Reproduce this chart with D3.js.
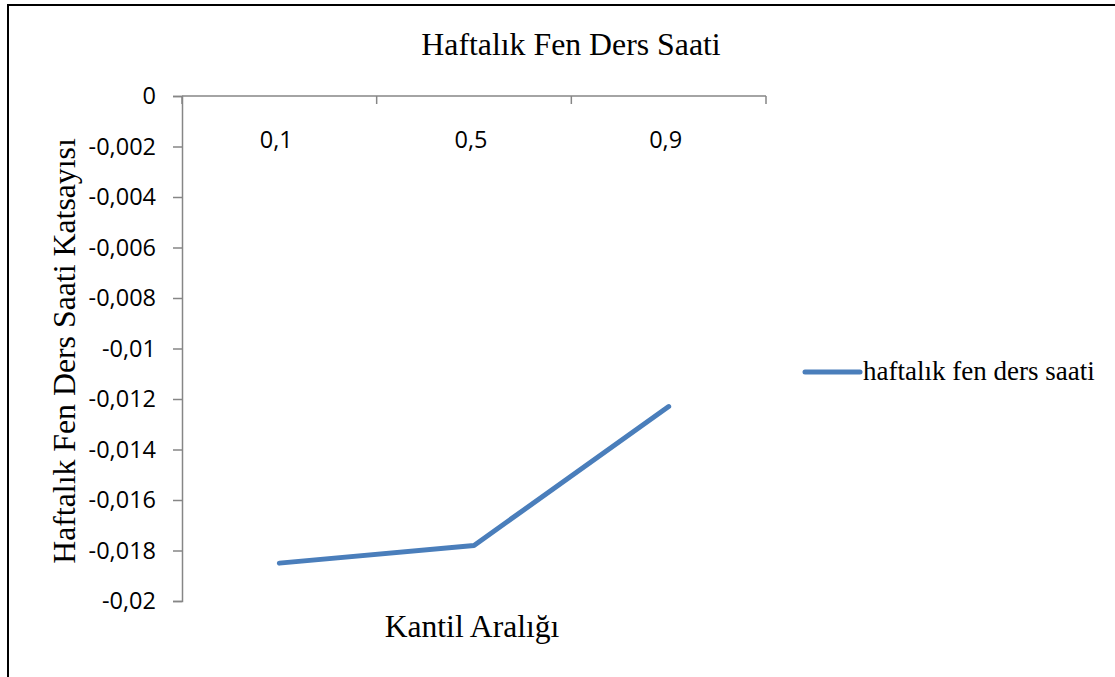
<!DOCTYPE html>
<html>
<head>
<meta charset="utf-8">
<script src="https://cdn.jsdelivr.net/npm/d3@7"></script>
<style>
  body { margin: 0; background: #fff; }
  svg { display: block; }
</style>
</head>
<body>
<svg id="chart" width="1115" height="677"></svg>
<script>
const quantiles = ['0,1', '0,5', '0,9'];
const coefficients = [-0.0185, -0.0178, -0.0123];
const yTicks = [0, -0.002, -0.004, -0.006, -0.008, -0.01, -0.012, -0.014, -0.016, -0.018, -0.02];
const seriesName = 'haftalık fen ders saati';

const svg = d3.select('#chart');
const plotLeft = 182, plotRight = 766, plotTop = 96, plotBottom = 601;
const axisColor = '#868686';
const lineColor = '#4a7ebb';

// outer frame of the chart area (runs off the right and bottom edge)
svg.append('rect')
  .attr('x', 8).attr('y', 5)
  .attr('width', 1120).attr('height', 690)
  .attr('fill', 'none')
  .attr('stroke', '#000')
  .attr('stroke-width', 2);

const x = d3.scaleBand().domain(quantiles).range([plotLeft, plotRight]);
const y = d3.scaleLinear().domain([0, -0.02]).range([plotTop, plotBottom]);

// y axis with comma decimals
const fmt = d => d === 0 ? '0' : String(d).replace('.', ',');
const yAxis = svg.append('g')
  .attr('transform', `translate(${plotLeft},0)`)
  .call(d3.axisLeft(y).tickValues(yTicks).tickFormat(fmt).tickSize(9).tickPadding(17));
yAxis.select('.domain').attr('stroke', axisColor).attr('stroke-width', 1.5);
yAxis.selectAll('.tick line').attr('stroke', axisColor).attr('stroke-width', 1.5);
yAxis.selectAll('.tick text')
  .attr('fill', '#000')
  .style('font-family', '"Open Sans", sans-serif')
  .style('font-size', '23.5px');

// category axis sits at zero (the top), ticks at category boundaries
const xAxis = svg.append('g')
  .attr('transform', `translate(0,${plotTop})`);
xAxis.append('line')
  .attr('x1', plotLeft).attr('x2', plotRight)
  .attr('stroke', axisColor).attr('stroke-width', 1.5);
const bounds = quantiles.map(q => x(q)).concat([x(quantiles[quantiles.length - 1]) + x.bandwidth()]);
xAxis.selectAll('line.tk')
  .data(bounds).enter()
  .append('line')
  .attr('class', 'tk')
  .attr('x1', d => d).attr('x2', d => d)
  .attr('y1', 0).attr('y2', 8)
  .attr('stroke', axisColor).attr('stroke-width', 1.5);
xAxis.selectAll('text')
  .data(quantiles).enter()
  .append('text')
  .attr('x', d => x(d) + x.bandwidth() / 2 - 3)
  .attr('y', 52)
  .attr('text-anchor', 'middle')
  .style('font-family', '"Open Sans", sans-serif')
  .style('font-size', '23.5px')
  .text(d => d);

// the series line
const line = d3.line()
  .x((d, i) => x(quantiles[i]) + x.bandwidth() / 2)
  .y(d => y(d));
svg.append('path')
  .datum(coefficients)
  .attr('d', line)
  .attr('fill', 'none')
  .attr('stroke', lineColor)
  .attr('stroke-width', 5)
  .attr('stroke-linecap', 'round')
  .attr('stroke-linejoin', 'round');

const serif = '"Liberation Serif", "Times New Roman", serif';

svg.append('text')
  .attr('x', 571).attr('y', 55)
  .attr('text-anchor', 'middle')
  .style('font-family', serif)
  .style('font-size', '31.8px')
  .text('Haftalık Fen Ders Saati');

svg.append('text')
  .attr('x', 472).attr('y', 637)
  .attr('text-anchor', 'middle')
  .style('font-family', serif)
  .style('font-size', '31.6px')
  .text('Kantil Aralığı');

svg.append('text')
  .attr('transform', 'translate(75,351) rotate(-90)')
  .attr('text-anchor', 'middle')
  .style('font-family', serif)
  .style('font-size', '31.8px')
  .text('Haftalık Fen Ders Saati Katsayısı');

// legend
const legend = svg.append('g').attr('transform', 'translate(805,372)');
legend.append('line')
  .attr('x1', 0).attr('x2', 55)
  .attr('stroke', lineColor)
  .attr('stroke-width', 5)
  .attr('stroke-linecap', 'round');
legend.append('text')
  .attr('x', 58).attr('y', 8)
  .style('font-family', serif)
  .style('font-size', '27px')
  .text(seriesName);
</script>
</body>
</html>
